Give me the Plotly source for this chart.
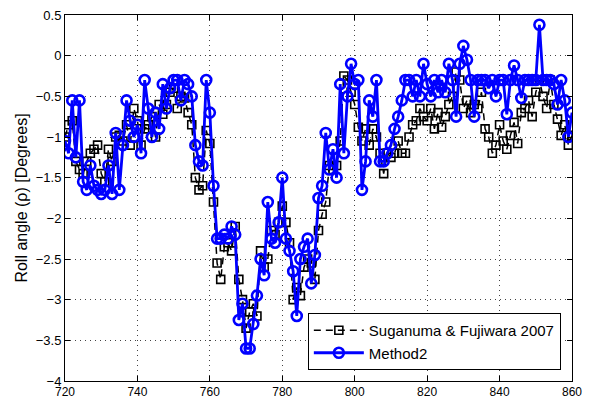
import plotly.graph_objects as go

x_vals = list(range(720, 861))

suganuma = [
    -1.0, -0.85, -0.8, -1.3, -1.4, -1.45, -1.3, -1.2, -1.15, -1.1,
    -1.45, -1.55, -1.15, -1.3, -1.0, -0.98, -1.05, -0.85, -1.1, -0.65,
    -0.8, -1.1, -0.9, -0.85, -0.75, -1.0, -0.6, -0.72, -0.6, -0.45,
    -0.4, -0.65, -0.5, -0.52, -0.7, -0.85, -1.5, -1.65, -1.6, -0.92,
    -1.08, -1.8, -2.55, -2.75, -2.35, -2.3, -2.4, -2.1, -2.75, -3.0,
    -3.35, -3.15, -3.05, -3.2, -2.4, -2.6, -2.5, -2.15, -2.2, -2.05,
    -1.85, -2.05, -2.3, -3.0, -2.85, -2.95, -2.6, -2.5, -2.55, -2.75,
    -2.15, -1.95, -1.8, -1.35, -1.4, -1.35, -1.05, -0.25, -0.3, -0.45,
    -0.6, -0.88, -1.05, -0.9, -1.1, -0.9, -1.0, -1.2, -1.45, -1.2,
    -1.25, -1.2, -1.05, -1.2, -1.2, -1.0, -0.85, -0.8, -0.65, -0.75,
    -0.8, -0.65, -0.9, -0.7, -0.88, -0.75, -0.6, -0.5, -0.2, -0.3,
    -0.65, -0.55, -0.7, -0.6, -0.65, -0.45, -0.9, -1.0, -1.2, -1.1,
    -0.85, -1.05, -1.15, -0.98, -0.82, -1.08, -0.7, -0.65, -0.55, -0.75,
    -0.45, -0.3, -0.5, -0.65, -0.3, -0.6, -0.78, -0.98, -0.85, -1.1,
    -0.98,
]

method2 = [
    -1.05, -1.2, -0.55, -1.25, -0.55, -1.55, -1.65, -1.35, -1.6, -1.65,
    -1.7, -1.65, -1.35, -1.7, -0.95, -1.65, -1.1, -0.55, -0.8, -1.0,
    -0.85, -1.2, -0.3, -0.65, -1.0, -0.7, -0.9, -0.35, -0.65, -0.4,
    -0.3, -0.3, -0.55, -0.3, -0.35, -0.5, -1.1, -1.3, -1.35, -0.3,
    -0.7, -1.6, -2.25, -2.25, -2.2, -2.25, -2.1, -2.2, -3.25, -3.05,
    -3.6, -3.6, -3.3, -2.95, -2.5, -2.7, -1.8, -2.25, -2.3, -2.05,
    -1.5, -2.25, -2.4, -2.65, -3.2, -2.5, -2.35, -2.25, -2.8, -2.45,
    -1.75, -1.6, -0.95, -1.4, -1.15, -1.5, -0.35, -1.2, -0.5, -0.1,
    -0.35, -0.3, -1.65, -1.3, -0.55, -0.75, -0.3, -1.3, -1.3, -1.2,
    -1.1, -0.9, -0.75, -0.55, -0.3, -0.3, -0.5, -0.3, -0.5, -0.1,
    -0.35, -0.5, -0.3, -0.45, -0.3, -0.45, -0.1, -0.3, -0.75, -0.1,
    0.12, -0.05, -0.3, -0.75, -0.3, -0.3, -0.3, -0.4, -0.3, -0.5,
    -0.3, -0.3, -0.72, -0.3, -0.12, -0.3, -0.52, -0.3, -0.3, -0.3,
    -0.3, 0.38, -0.3, -0.3, -0.3, -0.35, -0.6, -0.3, -0.55, -1.0,
    -0.7,
]

x_ticks = [720, 740, 760, 780, 800, 820, 840, 860]
y_ticks = [-4, -3.5, -3, -2.5, -2, -1.5, -1, -0.5, 0, 0.5]
y_ticktext = ["\u22124", "\u22123.5", "\u22123", "\u22122.5", "\u22122", "\u22121.5",
              "\u22121", "\u22120.5", "0", "0.5"]

FONT = "Liberation Sans, Arial, sans-serif"

fig = go.Figure()
fig.add_trace(go.Scatter(
    x=x_vals, y=suganuma, mode="lines+markers",
    name="Suganuma & Fujiwara 2007",
    line=dict(color="black", width=1.5, dash="7px,5px"),
    marker=dict(symbol="square-open", size=8, color="black", line=dict(width=1.6, color="black")),
))
fig.add_trace(go.Scatter(
    x=x_vals, y=method2, mode="lines+markers",
    name="Method2",
    line=dict(color="#0000ff", width=2.8),
    marker=dict(symbol="circle-open", size=10, color="#0000ff", line=dict(width=2.6, color="#0000ff")),
))

axis_common = dict(
    showline=True, linecolor="black", linewidth=1, mirror="allticks",
    ticks="inside", ticklen=5, tickcolor="black",
    showgrid=True, gridcolor="#444444", gridwidth=1, griddash="1px,4px",
    zeroline=False, automargin=False,
)

fig.update_xaxes(range=[720, 860], tickvals=x_ticks,
                 tickfont=dict(family=FONT, size=12, color="black"), **axis_common)
fig.update_yaxes(range=[-4, 0.5], tickvals=y_ticks, ticktext=y_ticktext,
                 tickfont=dict(family=FONT, size=13, color="black"),
                 title=dict(text="Roll angle (\u03c1) [Degrees]",
                            font=dict(family=FONT, size=16, color="black"),
                            standoff=4),
                 **axis_common)

fig.update_layout(
    width=590, height=401,
    margin=dict(l=65, r=18, t=15, b=20),
    paper_bgcolor="white", plot_bgcolor="white",
    legend=dict(
        x=0.978, y=0.03, xanchor="right", yanchor="bottom",
        bgcolor="white", bordercolor="black", borderwidth=1,
        font=dict(family=FONT, size=15, color="black"),
        tracegroupgap=0, itemwidth=50,
    ),
)

fig.write_html(
    "out.html",
    config={"displayModeBar": False},
    post_script="document.body.style.margin='0';document.body.style.overflow='hidden';",
)
